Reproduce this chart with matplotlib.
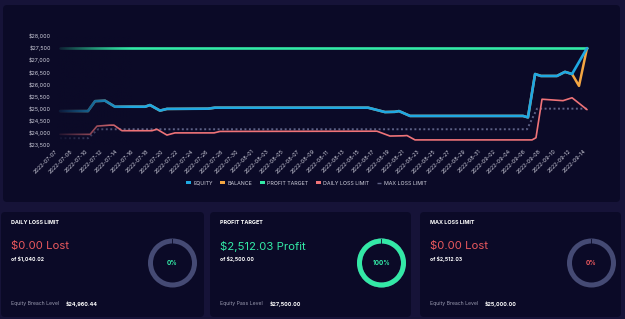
import numpy as np
import matplotlib
matplotlib.use('Agg')
import matplotlib.pyplot as plt
from matplotlib.patches import FancyBboxPatch, Wedge, Patch
from matplotlib.lines import Line2D

plt.rcParams['font.family'] = ['Inter', 'DejaVu Sans']

# ---- data ----
tick_labels = ['2022-07-07', '2022-07-08', '2022-07-10', '2022-07-12', '2022-07-14',
               '2022-07-16', '2022-07-18', '2022-07-20', '2022-07-22', '2022-07-24',
               '2022-07-26', '2022-07-28', '2022-07-30', '2022-08-01', '2022-08-03',
               '2022-08-05', '2022-08-07', '2022-08-09', '2022-08-11', '2022-08-13',
               '2022-08-15', '2022-08-17', '2022-08-19', '2022-08-21', '2022-08-23',
               '2022-08-25', '2022-08-27', '2022-08-29', '2022-08-31', '2022-09-02',
               '2022-09-04', '2022-09-06', '2022-09-08', '2022-09-10', '2022-09-12',
               '2022-09-14']
y_ticks = [23500, 24000, 24500, 25000, 25500, 26000, 26500, 27000, 27500, 28000]

# x in tick-index units
equity_x = [0.2, 2.05, 2.52, 3.18, 3.84, 5.83, 6.16, 6.82, 7.28, 10.0, 10.46, 20.6,
            21.72, 22.38, 22.65, 23.38, 30.86, 31.19, 31.66, 32.05, 33.11, 33.64, 34.11, 35.1]
equity_y = [24900, 24900, 25310, 25330, 25080, 25080, 25150, 24920, 24990, 25000, 25040, 25040,
            24860, 24870, 24900, 24700, 24700, 24640, 26430, 26350, 26350, 26520, 26430, 27500]

balance_x = equity_x[:-1] + [34.57, 35.1]
balance_y = equity_y[:-1] + [25940, 27500]

target_x = [0.2, 35.1]
target_y = [27500, 27500]

daily_x = [0.2, 2.19, 2.65, 3.51, 3.77, 4.3, 6.29, 6.62, 7.28, 7.81, 10.4, 10.79, 21.19,
           22.05, 22.91, 23.18, 23.71, 31.46, 31.72, 32.12, 33.51, 34.11, 35.1]
daily_y = [23940, 23940, 24280, 24320, 24320, 24090, 24090, 24150, 23910, 24000, 24000, 24060, 24070,
           23870, 23880, 23890, 23710, 23710, 23800, 25390, 25330, 25450, 24960]

maxloss_x = [0.2, 2.05, 2.72, 31.13, 31.79, 35.1]
maxloss_y = [23780, 23780, 24150, 24150, 25000, 25000]

card_titles = ['DAILY LOSS LIMIT', 'PROFIT TARGET', 'MAX LOSS LIMIT']
card_amounts = ['$0.00 Lost', '$2,512.03 Profit', '$0.00 Lost']
card_of = ['of $1,040.02', 'of $2,500.00', 'of $2,512.03']
card_foot_labels = ['Equity Breach Level', 'Equity Pass Level', 'Equity Breach Level']
card_foot_values = ['$24,960.44', '$27,500.00', '$25,000.00']
card_pct = [0, 100, 0]

# ---- colours ----
outer_bg = '#161338'
panel_bg = '#0b0a27'
c_equity = '#1fa8e2'
c_balance = '#f4a642'
c_target = '#33e9a6'
c_daily = '#ef7378'
c_max = '#5d6186'
c_text = '#cfcfdc'
c_red_txt = '#e9585d'
c_track = '#454a74'

fig = plt.figure(figsize=(6.25, 3.19), dpi=100, facecolor=outer_bg)

# background layer in pixel coords
bg = fig.add_axes([0, 0, 1, 1])
bg.set_xlim(0, 625)
bg.set_ylim(319, 0)
bg.axis('off')
bg.set_zorder(0)

bg.add_patch(FancyBboxPatch((3, 5), 617, 197, boxstyle='round,pad=0,rounding_size=4',
                            fc=panel_bg, ec='none'))

card_left = [1, 210, 420]
card_w = [203, 201, 201]
for i in range(3):
    x0 = card_left[i]
    bg.add_patch(FancyBboxPatch((x0, 212), card_w[i], 105, boxstyle='round,pad=0,rounding_size=4',
                                fc=panel_bg, ec='none'))
    amt_col = c_target if i == 1 else c_red_txt
    bg.text(x0 + 10, 222.5, card_titles[i], color='white', fontsize=3.9, fontweight='bold',
            va='center', ha='left')
    bg.text(x0 + 10, 246, card_amounts[i], color=amt_col, fontsize=8.2, va='center', ha='left')
    bg.text(x0 + 10, 258.5, card_of[i], color='white', fontsize=3.7, fontweight='bold',
            va='center', ha='left')
    lab = bg.text(x0 + 10, 304, card_foot_labels[i], color='#9a9ab0', fontsize=3.7,
                  va='center', ha='left')
    bg.annotate(card_foot_values[i], xy=(1, 0.5), xycoords=lab, xytext=(5, 0),
                textcoords='offset points', color='white', fontsize=3.9, fontweight='bold',
                va='center', ha='left')

    # donut
    cx, cy = x0 + 171.5, 263
    bg.add_patch(Wedge((cx, cy), 24.5, 0, 360, width=5, fc=c_track, ec='none'))
    if card_pct[i] > 0:
        bg.add_patch(Wedge((cx, cy), 24.5, 90 - 360 * card_pct[i] / 100, 90, width=5,
                           fc=c_target, ec='none'))
    bg.plot([cx - 1, cx - 1], [cy - 24.5, cy - 19.5], color=panel_bg, lw=0.6)
    pct_col = c_red_txt if i == 2 else c_target
    bg.text(cx, cy, f'{card_pct[i]}%', color=pct_col, fontsize=4.6, fontweight='bold',
            ha='center', va='center')

# ---- line chart ----
ax = fig.add_axes([55 / 625, (319 - 145) / 319, 540 / 625, 109 / 319])
ax.set_facecolor('none')
ax.set_zorder(1)

kw = dict(solid_capstyle='round', solid_joinstyle='round')
ax.plot(target_x, target_y, color=c_target, lw=1.9, **kw)
ax.plot(maxloss_x, maxloss_y, color=c_max, lw=1.4, ls=(0, (1, 1.3)))
ax.plot(daily_x, daily_y, color=c_daily, lw=1.2, **kw)
ax.plot(balance_x, balance_y, color=c_balance, lw=1.8, **kw)
ax.plot(equity_x, equity_y, color=c_equity, lw=1.9, **kw)

# fade in from the left
grad = np.zeros((1, 100, 4))
grad[..., :3] = matplotlib.colors.to_rgb(panel_bg)
grad[..., 3] = np.linspace(0.95, 0.0, 100) ** 1.3
ax.imshow(grad, extent=(0.0, 5.0, 23400, 28100), aspect='auto', zorder=5, interpolation='bilinear')

ax.set_xlim(-2 / 15.1, 538 / 15.1)
ax.set_ylim(23500, 28000)
ax.set_xticks(range(len(tick_labels)))
ax.set_xticklabels(tick_labels, rotation=45, ha='right', va='center', rotation_mode='anchor')
ax.set_yticks(y_ticks)
ax.set_yticklabels([f'${v:,}' for v in y_ticks])
ax.tick_params(axis='both', length=0, colors=c_text, labelsize=3.9)
ax.tick_params(axis='y', pad=3)
ax.tick_params(axis='x', pad=4)
for s in ax.spines.values():
    s.set_visible(False)

handles = [Patch(fc=c_equity), Patch(fc=c_balance), Patch(fc=c_target), Patch(fc=c_daily),
           Line2D([], [], color=c_max, marker='_', ls='none', markersize=3)]
names = ['EQUITY', 'BALANCE', 'PROFIT TARGET', 'DAILY LOSS LIMIT', 'MAX LOSS LIMIT']
fig.legend(handles, names, loc='center', bbox_to_anchor=(0.49, 0.426), ncol=5, frameon=False,
           fontsize=3.8, handlelength=1.0, handleheight=0.5, handletextpad=0.4,
           columnspacing=1.4, labelcolor=c_text)

fig.savefig('out.png', dpi=100, facecolor=outer_bg)
